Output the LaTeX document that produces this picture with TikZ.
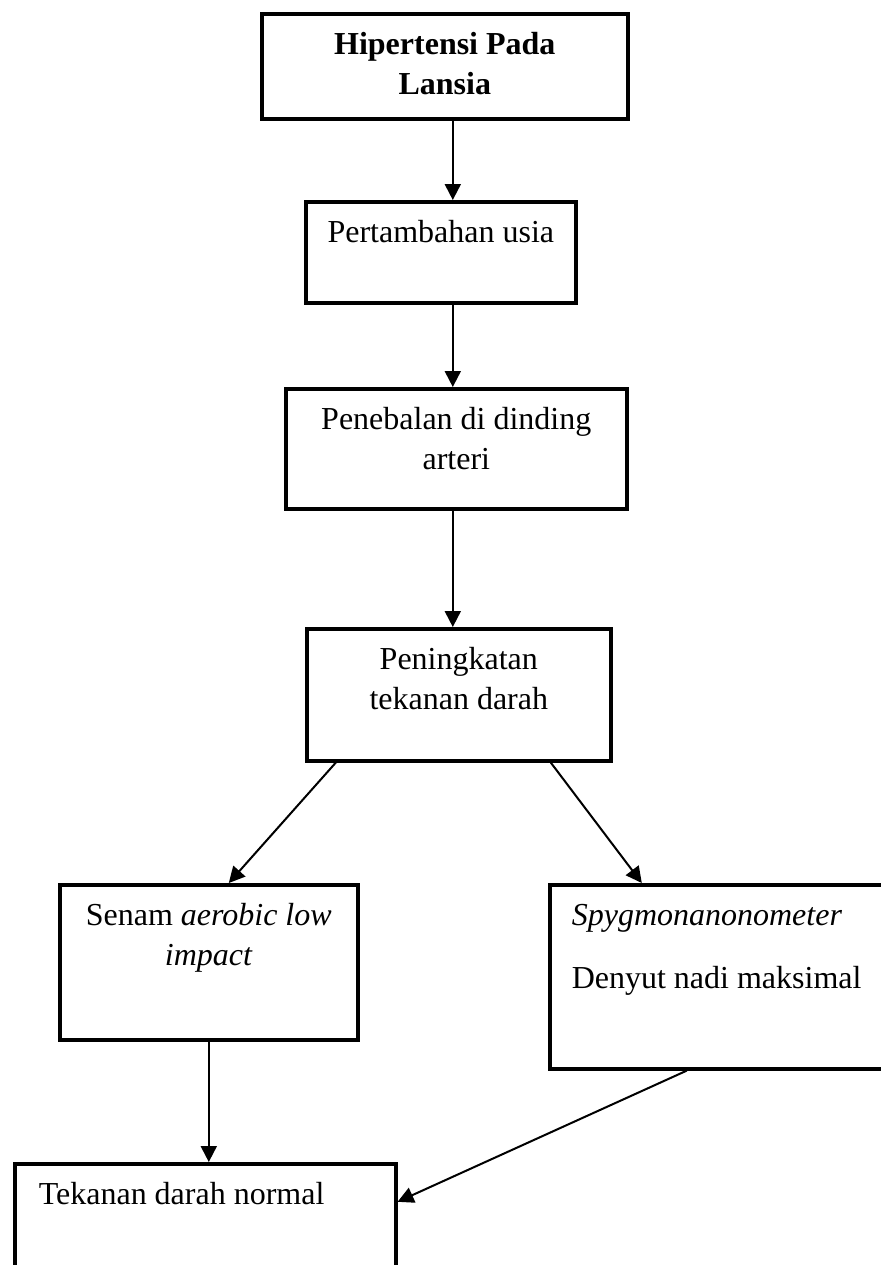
\documentclass[tikz,border=0pt]{standalone}
\usepackage{fontspec}
\setmainfont{Liberation Serif}
\usepackage{tikz}
\usetikzlibrary{arrows.meta}
\newcommand{\isi}[4][\centering]{\parbox[t][#3pt][t]{#2pt}{\vspace*{6.5pt}#1\strut#4}}

\begin{document}
\begin{tikzpicture}[x=0.5pt, y=-0.5pt,
  kotak/.style={draw, line width=1.8pt, inner sep=0pt, anchor=north west, font=\fontsize{16}{20}\selectfont},
  panah/.style={line width=1pt, -{Triangle[length=8pt, width=8pt]}}]
\useasboundingbox (0, 0) rectangle (880, 1265);
\node[kotak] (b1) at (260, 12) {\isi{183}{52.5}{\bfseries Hipertensi Pada\\ Lansia}};
\node[kotak] (b2) at (304, 200) {\isi{135}{50.5}{Pertambahan usia}};
\node[kotak] (b3) at (284, 387) {\isi{170.5}{60}{Penebalan di dinding\\ arteri}};
\node[kotak] (b4) at (305, 627) {\isi{152}{66}{Peningkatan\\ tekanan darah}};
\node[kotak] (b5) at (58, 883) {\isi{149}{77.5}{Senam \textit{aerobic low}\\ \textit{impact}}};
\node[kotak] (b6) at (548, 883) {\isi[\raggedright\leftskip=11pt]{169}{92}{\textit{Spygmonanonometer}\\[11.5pt] Denyut nadi maksimal}};
\node[kotak] (b7) at (13, 1162) {\isi[\raggedright\leftskip=12pt]{190.5}{60}{Tekanan darah normal}};
\draw[panah] ([xshift=4pt]b1.south) -- ([xshift=6pt]b2.north);
\draw[panah] ([xshift=6pt]b2.south) -- ([xshift=-1.75pt]b3.north);
\draw[panah] ([xshift=-1.75pt]b3.south) -- ([xshift=-3pt]b4.north);
\draw[panah] ([xshift=-61.5pt]b4.south) -- ([xshift=10pt]b5.north);
\draw[panah] ([xshift=46pt]b4.south) -- ([xshift=-38.5pt]b6.north);
\draw[panah] (b5.south) -- (b5.south |- b7.north);
\draw[panah] ([xshift=-16pt]b6.south) -- ([yshift=11pt]b7.east);
\end{tikzpicture}
\end{document}
